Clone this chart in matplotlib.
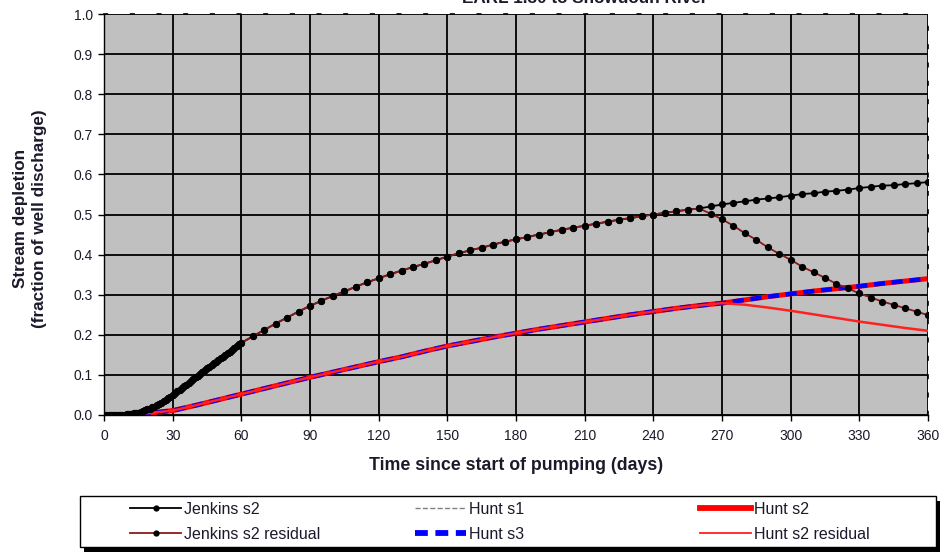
import matplotlib
matplotlib.use("Agg")
import matplotlib.pyplot as plt
from matplotlib.lines import Line2D
from matplotlib.patches import Rectangle

plt.rcParams['font.family'] = ['Liberation Sans', 'DejaVu Sans']

# ---- data -------------------------------------------------------------
days_dense = list(range(0, 61))
jenkins_dense = [0, 0, 0, 0, 0, 0, 0, 0, 0.001, 0.001,
                 0.002, 0.003, 0.003, 0.004, 0.005, 0.006, 0.008, 0.010, 0.012, 0.014,
                 0.016, 0.019, 0.021, 0.024, 0.027, 0.030, 0.034, 0.038, 0.042, 0.046,
                 0.050, 0.054, 0.059, 0.063, 0.068, 0.072, 0.076, 0.081, 0.085, 0.090,
                 0.094, 0.098, 0.103, 0.107, 0.112, 0.116, 0.120, 0.124, 0.129, 0.133,
                 0.137, 0.141, 0.145, 0.150, 0.154, 0.158, 0.162, 0.167, 0.171, 0.176,
                 0.180]
days_sparse = list(range(65, 361, 5))
jenkins_sparse = [0.196, 0.212, 0.228, 0.243, 0.258, 0.272, 0.285, 0.297, 0.308, 0.320,
                  0.331, 0.341, 0.351, 0.360, 0.369, 0.377, 0.386, 0.395, 0.403, 0.411,
                  0.417, 0.425, 0.432, 0.438, 0.444, 0.450, 0.456, 0.462, 0.467, 0.472,
                  0.477, 0.482, 0.487, 0.491, 0.496, 0.500, 0.504, 0.508, 0.512, 0.515,
                  0.520, 0.525, 0.529, 0.533, 0.537, 0.540, 0.543, 0.547, 0.551, 0.553,
                  0.557, 0.559, 0.562, 0.566, 0.569, 0.572, 0.573, 0.576, 0.578, 0.581]
# Jenkins s2 residual after pumping stops (days 265..360)
jenkins_resid_tail = [0.502, 0.488, 0.472, 0.453, 0.437, 0.418, 0.402, 0.387, 0.370, 0.356,
                      0.342, 0.327, 0.316, 0.303, 0.293, 0.283, 0.275, 0.266, 0.258, 0.249]

hunt_days = list(range(0, 361, 10))
hunt_s2 = [0.000, 0.001, 0.005, 0.011, 0.024, 0.038, 0.052, 0.066, 0.080, 0.094,
           0.107, 0.120, 0.133, 0.145, 0.159, 0.172, 0.183, 0.194, 0.204, 0.214,
           0.223, 0.232, 0.241, 0.250, 0.258, 0.266, 0.273, 0.279, 0.287, 0.295,
           0.302, 0.309, 0.315, 0.321, 0.328, 0.334, 0.340]
hunt_s1 = list(hunt_s2)
hunt_s3 = list(hunt_s2)
hunt_s2_resid = hunt_s2[:28] + [0.275, 0.268, 0.260, 0.251, 0.242, 0.233, 0.225, 0.217, 0.210]

x_ticks = list(range(0, 361, 30))
y_ticks = [0.0, 0.1, 0.2, 0.3, 0.4, 0.5, 0.6, 0.7, 0.8, 0.9, 1.0]

jenkins_days = days_dense + days_sparse
jenkins_s2 = jenkins_dense + jenkins_sparse
n_keep = len(jenkins_days) - len(jenkins_resid_tail)
jenkins_resid = jenkins_s2[:n_keep] + jenkins_resid_tail

# ---- figure -----------------------------------------------------------
W, H = 941, 552
fig = plt.figure(figsize=(W / 100, H / 100), dpi=100)
ax = fig.add_axes([104 / W, 1 - 415 / H, (928 - 104) / W, (415 - 14) / H])
ax.set_facecolor('#C0C0C0')
TXT = '#1a1a2a'

ax.set_xlim(0, 360)
ax.set_ylim(0, 1.0)
ax.set_xticks(x_ticks)
ax.set_yticks(y_ticks)
ax.set_yticklabels([f"{v:.1f}" for v in y_ticks])
ax.grid(True, color='black', linewidth=1.3)
ax.set_axisbelow(True)
ax.tick_params(axis='both', direction='out', length=4, width=1, color='black',
               labelsize=10, labelcolor=TXT)
ax.tick_params(axis='x', pad=6)
ax.tick_params(axis='y', pad=4)

for s in ['left', 'bottom']:
    ax.spines[s].set_color('black')
    ax.spines[s].set_linewidth(1)
ax.spines['top'].set_color('black')
ax.spines['top'].set_linewidth(1.2)
ax.spines['top'].set_linestyle((0, (2, 14)))
ax.spines['right'].set_color('black')
ax.spines['right'].set_linewidth(1.2)
ax.spines['right'].set_linestyle((0, (2, 9)))

# series
ax.plot(hunt_days, hunt_s1, color='#808080', lw=1, ls='--', zorder=3)
ax.plot(hunt_days, hunt_s2, color='red', lw=3.6, zorder=4, solid_capstyle='round')
ax.plot(hunt_days, hunt_s3, color='blue', lw=3.2, ls=(0, (2.5, 1.5)), zorder=5)
ax.plot(hunt_days, hunt_s2_resid, color='#ff2020', lw=1.8, zorder=6)

ax.plot(jenkins_days, jenkins_s2, color='black', lw=1.3, marker='o', ms=5.2,
        markeredgewidth=0, zorder=7)
ax.plot(jenkins_days, jenkins_resid, color='#8B1A1A', lw=1.3, marker='o', ms=5.2,
        markerfacecolor='black', markeredgewidth=0, zorder=8)

ax.set_xlabel('Time since start of pumping (days)', fontsize=12.8, fontweight='bold',
              labelpad=10, color=TXT)
ax.set_ylabel('Stream depletion\n(fraction of well discharge)', fontsize=12.3,
              fontweight='bold', linespacing=1.35, color=TXT)
ax.yaxis.set_label_coords(-0.0695, 0.49)

# clipped title at the top
fig.text(585 / W, 1 - 3 / H, 'EARL 1.30 to Snowdoun River', ha='center', va='baseline',
         fontsize=12.3, fontweight='bold', color=TXT)

# legend frame with solid drop shadow
fig.add_artist(Rectangle((84 / W, 1 - 552 / H), 856 / W, 51 / H, transform=fig.transFigure,
                         facecolor='black', edgecolor='none', zorder=1))
fig.add_artist(Rectangle((80 / W, 1 - 547 / H), 856 / W, 51 / H, transform=fig.transFigure,
                         facecolor='white', edgecolor='black', lw=1, zorder=2))

h_j = Line2D([0, 0.5, 1], [0, 0, 0], color='black', lw=1.3, marker='o', ms=4.5,
             markevery=[1], markeredgewidth=0)
h_jr = Line2D([0, 0.5, 1], [0, 0, 0], color='#8B1A1A', lw=1.3, marker='o', ms=4.5,
              markevery=[1], markerfacecolor='black', markeredgewidth=0)
h_h1 = Line2D([], [], color='#808080', lw=1, ls='--')
h_h3 = Line2D([], [], color='blue', lw=4.2, ls=(0, (2.2, 1.3)))
h_h2 = Line2D([], [], color='red', lw=4.2)
h_h2r = Line2D([], [], color='#ff2020', lw=1.3)

groups = [([h_j, h_jr], ['Jenkins s2', 'Jenkins s2 residual'], 130),
          ([h_h1, h_h3], ['Hunt s1', 'Hunt s3'], 415),
          ([h_h2, h_h2r], ['Hunt s2', 'Hunt s2 residual'], 700)]
for hs, ls_, x0 in groups:
    lg = fig.legend(hs, ls_, loc='upper left', bbox_to_anchor=(x0 / W, 1 - 502 / H),
                    fontsize=11.5, frameon=False, handlelength=3.2, handletextpad=0.2,
                    borderpad=0, borderaxespad=0, labelspacing=0.62)
    lg.set_zorder(5)
    for t in lg.get_texts():
        t.set_color(TXT)

fig.savefig('out.png', dpi=100)
